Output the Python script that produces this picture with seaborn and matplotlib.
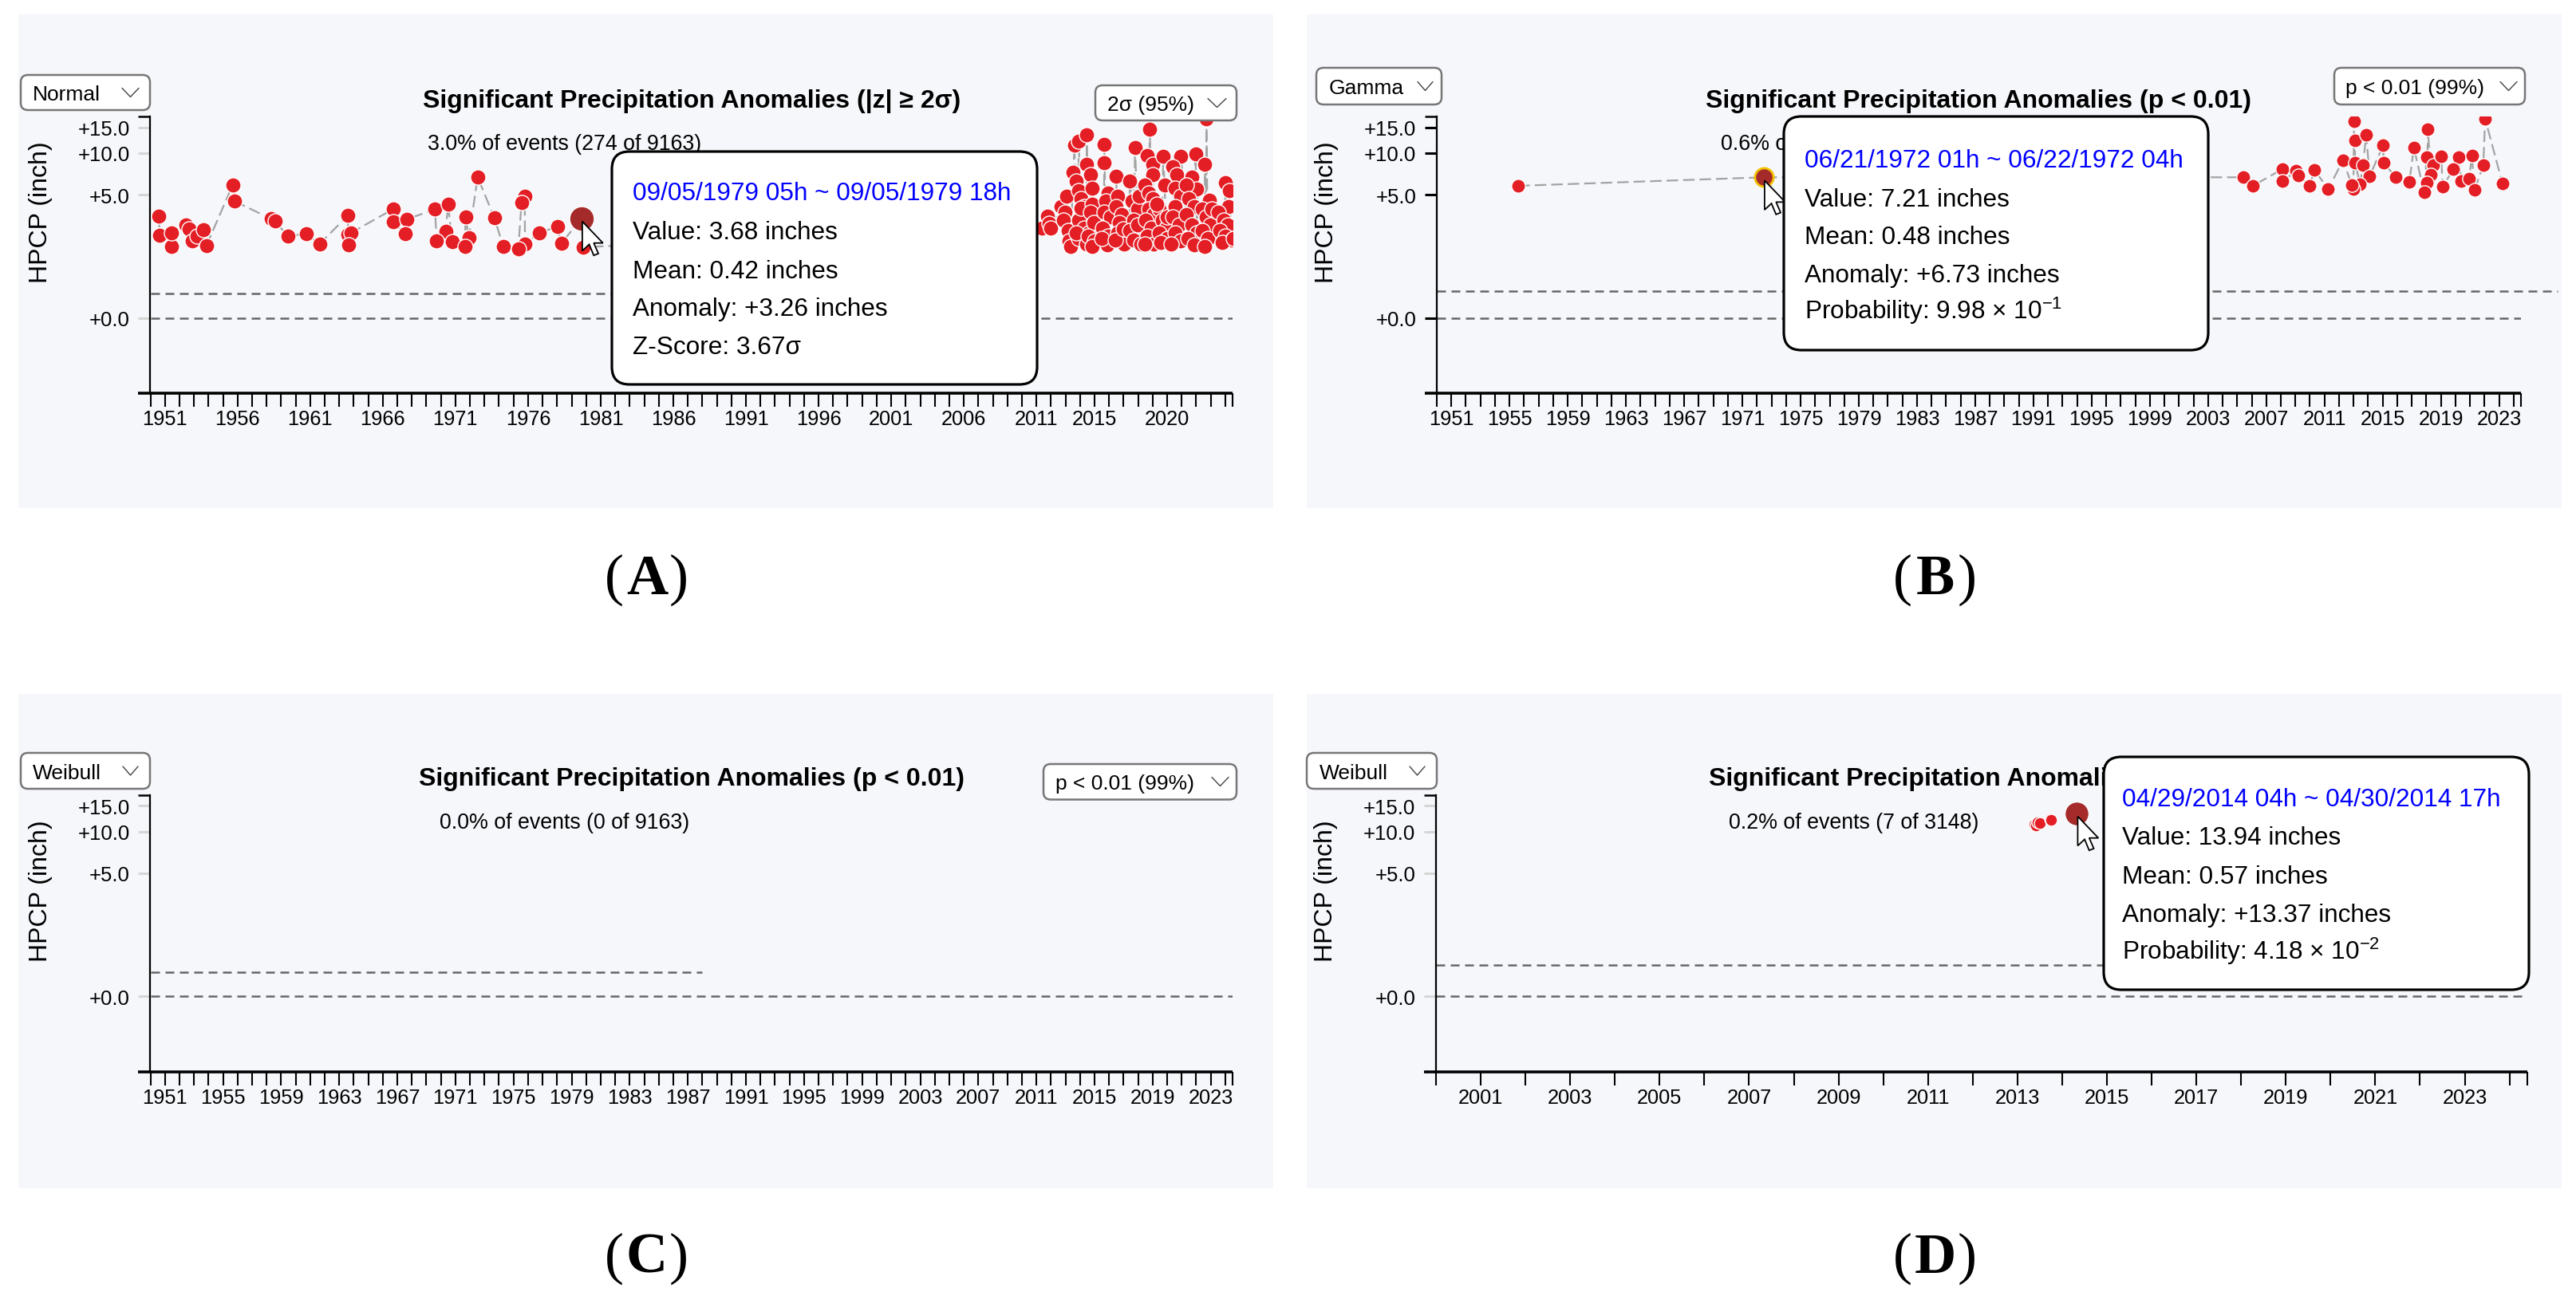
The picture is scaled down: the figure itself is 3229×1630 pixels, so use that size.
import numpy as np
import pandas as pd
import matplotlib
matplotlib.use("Agg")
import matplotlib.pyplot as plt
import matplotlib.transforms as mtransforms
from matplotlib.patches import FancyBboxPatch, Polygon, Rectangle
from matplotlib.lines import Line2D
import seaborn as sns

sns.set_style("white")
plt.rcParams["font.family"] = ["Liberation Sans", "DejaVu Sans"]
plt.rcParams["mathtext.fontset"] = "custom"
plt.rcParams["mathtext.rm"] = "Liberation Sans"
plt.rcParams["mathtext.it"] = "Liberation Sans:italic"
plt.rcParams["mathtext.bf"] = "Liberation Sans:bold"
plt.rcParams["axes.unicode_minus"] = False

# ---------------- data ----------------
Y_MIN, Y_MAX = -2.0, 17.8
Y_TICKS = [0, 5, 10, 15]
Y_TICK_LABELS = ["+0.0", "+5.0", "+10.0", "+15.0"]

# Panel A : Normal, |z| >= 2 sigma (anomalies, inches)
A_YEARS = [1950.60, 1950.62, 1951.43, 1951.48, 1952.42, 1952.64, 1952.86, 1953.24, 1953.63, 1953.85,
           1955.66, 1955.77, 1958.30, 1958.57, 1959.45, 1960.71, 1961.65, 1963.60, 1963.62, 1963.80,
           1963.64, 1966.70, 1966.72, 1967.63, 1967.55, 1969.60, 1970.50, 1970.33, 1969.70, 1970.77,
           1971.70, 1971.92, 1971.65, 1972.53, 1973.68, 1974.29, 1975.77, 1975.55, 1975.79, 1975.33,
           1976.76, 1978.02, 1978.30, 1979.78,
           2011.40, 2011.77, 2011.85, 2011.96,
           2012.70, 2012.98, 2012.88, 2013.16, 2013.25, 2013.53, 2013.62, 2013.90, 2013.35, 2013.07,
           2014.46, 2014.46, 2014.73, 2013.72, 2013.90, 2014.09, 2014.27, 2014.46, 2013.90, 2014.27,
           2014.64, 2013.90, 2014.46, 2013.72, 2014.09,
           2014.83, 2014.73, 2014.92, 2014.55, 2015.01, 2014.83, 2014.83,
           2015.66, 2015.66, 2015.94, 2015.75, 2015.66, 2016.12, 2015.57, 2015.94, 2015.85, 2015.47,
           2016.49, 2016.59, 2016.49, 2016.86, 2016.68, 2016.59, 2017.05, 2016.40, 2016.96,
           2017.79, 2017.42, 2017.60, 2017.97, 2017.70, 2017.42, 2017.97, 2017.70, 2018.16, 2018.07,
           2018.81, 2018.62, 2018.99, 2018.99, 2018.44, 2018.71, 2018.99, 2018.71, 2019.08, 2018.53,
           2018.90, 2018.62, 2019.08, 2018.44,
           2019.73, 2019.82, 2019.45, 2019.64, 2019.92, 2019.45, 2020.01, 2019.55, 2020.01, 2019.27,
           2020.94, 2020.38, 2020.66, 2020.57, 2020.94, 2020.57, 2020.38, 2020.84, 2020.57, 2020.94,
           2020.29,
           2021.95, 2021.68, 2022.05, 2021.31, 2021.49, 2021.86, 2021.31, 2021.68, 2022.05, 2021.40,
           2021.86,
           2022.70, 2022.60, 2022.88, 2022.42, 2022.69, 2022.97, 2022.42, 2022.79, 2022.60, 2023.06,
           2023.99, 2024.27, 2024.23, 2023.53, 2023.90, 2024.17, 2023.62, 2023.99, 2024.45, 2023.80,
           2024.55]
A_ANOM = [3.41, 2.32, 1.82, 2.44, 2.86, 2.64, 2.06, 2.29, 2.61, 1.85,
          5.90, 4.47, 3.23, 3.10, 2.29, 2.39, 1.93, 3.44, 2.36, 2.44,
          1.89, 3.86, 3.05, 3.19, 2.39, 3.86, 4.23, 2.53, 2.06, 2.02,
          3.35, 2.20, 1.83, 6.75, 3.29, 1.83, 4.87, 4.37, 1.92, 1.72,
          2.44, 2.78, 1.96, 1.80,
          2.70, 3.41, 2.95, 2.70,
          4.05, 3.67, 3.16, 2.56, 2.05, 7.35, 11.31, 12.04, 1.82, 4.89,
          13.36, 8.31, 7.03, 6.29, 5.37, 4.67, 4.05, 3.49, 3.16, 2.70,
          2.43, 2.17, 1.93, 2.43, 3.95,
          4.24, 3.67, 3.00, 2.30, 2.05, 1.82, 5.62,
          11.54, 8.56, 5.13, 4.45, 3.67, 3.32, 2.70, 2.30, 1.88, 2.17,
          6.88, 4.89, 4.05, 3.49, 3.00, 2.43, 1.93, 2.11, 2.63,
          10.93, 6.29, 4.45, 3.86, 3.16, 2.56, 2.85, 2.11, 1.93, 4.89,
          14.63, 9.61, 8.31, 7.03, 5.88, 5.13, 4.67, 3.86, 3.49, 3.16,
          2.70, 2.30, 1.93, 1.93,
          9.45, 5.88, 3.86, 3.16, 2.70, 2.43, 2.17, 1.99, 3.32, 4.24,
          9.45, 8.03, 7.03, 5.62, 4.89, 4.05, 3.32, 2.85, 2.43, 2.05,
          1.93,
          9.87, 6.73, 5.49, 5.88, 4.67, 4.05, 3.49, 2.85, 2.43, 2.17,
          1.88,
          17.00, 8.31, 4.56, 3.86, 3.32, 2.85, 2.56, 2.17, 1.82, 3.86,
          6.15, 5.37, 4.05, 3.67, 3.16, 2.85, 2.56, 2.30, 2.11, 1.99,
          2.17]
A_HOVER = (1979.68, 3.26)
A_MEAN = 0.42
A_MEAN_END = 1988.0
A_XLIM = (1950, 2024.5)
A_XLABELS = [1951, 1956, 1961, 1966, 1971, 1976, 1981, 1986, 1991, 1996, 2001, 2006, 2011, 2015, 2020]

# Panel B : Gamma, p < 0.01
B_YEARS = [1955.60, 2005.41, 2006.08, 2008.10, 2008.12, 2009.06, 2009.20, 2010.31, 2009.98, 2011.26,
           2012.27, 2013.03, 2013.09, 2013.87, 2013.10, 2013.64, 2014.10, 2013.45, 2012.99, 2012.88,
           2015.04, 2015.05, 2015.88, 2016.83, 2017.14, 2018.11, 2018.02, 2018.47, 2019.02, 2018.29,
           2018.03, 2017.84, 2019.12, 2020.21, 2019.85, 2020.40, 2021.13, 2020.94, 2021.31, 2021.91,
           2022.04, 2023.23]
B_ANOM = [5.83, 6.73, 5.83, 7.70, 6.30, 7.50, 6.96, 7.60, 5.83, 5.49,
          8.93, 16.40, 12.30, 13.40, 8.56, 8.20, 6.88, 6.00, 5.49, 5.90,
          11.30, 8.56, 6.79, 6.20, 10.90, 14.60, 9.34, 8.20, 9.50, 7.03,
          6.13, 5.25, 5.74, 9.34, 7.70, 6.30, 9.60, 6.60, 5.42, 8.20,
          17.10, 6.07]
B_HOVER = (1972.47, 6.73)
B_MEAN = 0.47
B_MEAN_END = 2027.0
B_XLIM = (1950, 2024.5)
B_XLABELS = [1951, 1955, 1959, 1963, 1967, 1971, 1975, 1979, 1983, 1987, 1991, 1995, 1999, 2003,
             2007, 2011, 2015, 2019, 2023]

# Panel C : Weibull, p < 0.01 (no events)
C_MEAN = 0.42
C_MEAN_END = 1988.0
C_XLIM = (1950, 2024.5)
C_XLABELS = B_XLABELS

# Panel D : Weibull, p < 0.01, 2000-2024
D_YEARS = [2013.38, 2013.41, 2013.45, 2013.50, 2013.73, 2013.76]
D_ANOM = [11.2, 11.0, 11.6, 11.4, 12.2, 12.0]
D_HOVER = (2014.33, 13.37)
D_MEAN = 0.58
D_MEAN_END = 2016.0
D_XLIM = (2000, 2024.4)
D_XLABELS = [2001, 2003, 2005, 2007, 2009, 2011, 2013, 2015, 2017, 2019, 2021, 2023]

TITLE_A = "Significant Precipitation Anomalies (|z| \u2265 2\u03c3)"
TITLE_P = "Significant Precipitation Anomalies (p < 0.01)"
SUB_A = "3.0% of events (274 of 9163)"
SUB_B = "0.6% of events (55 of 9163)"
SUB_C = "0.0% of events (0 of 9163)"
SUB_D = "0.2% of events (7 of 3148)"
TIP_A = ["09/05/1979 05h ~ 09/05/1979 18h", "Value: 3.68 inches", "Mean: 0.42 inches",
         "Anomaly: +3.26 inches", "Z-Score: 3.67\u03c3"]
TIP_B = ["06/21/1972 01h ~ 06/22/1972 04h", "Value: 7.21 inches", "Mean: 0.48 inches",
         "Anomaly: +6.73 inches", "Probability: 9.98 \u00d7 10$^{-1}$"]
TIP_D = ["04/29/2014 04h ~ 04/30/2014 17h", "Value: 13.94 inches", "Mean: 0.57 inches",
         "Anomaly: +13.37 inches", "Probability: 4.18 \u00d7 10$^{-2}$"]

# ---------------- styling ----------------
W, H = 3230, 1631
BG = "#f6f7fb"
RED = "#e41e25"
HOVER = "#a52a2a"
fig = plt.figure(figsize=(W / 100, H / 100), dpi=100)
fig.patch.set_facecolor("white")
PX = mtransforms.Affine2D().scale(1 / W, -1 / H).translate(0, 1) + fig.transFigure


def fwd(v):
    v = np.asarray(v, dtype=float)
    return np.sign(v) * np.log1p(np.abs(v))


def inv(t):
    t = np.asarray(t, dtype=float)
    return np.sign(t) * np.expm1(np.abs(t))


def ftext(x, y, s, size, cap=0.358, **kw):
    base = y + cap * size / 0.72
    kw.setdefault("ha", "left")
    return fig.text(x / W, 1 - base / H, s, fontsize=size, va="baseline", **kw)


def rect_bg(box):
    l, t, r, b = box
    fig.add_artist(Rectangle((l, t), r - l, b - t, transform=PX, facecolor=BG,
                             edgecolor="none", zorder=-5))


def dropdown(box, text, tx, ty, c0, c1):
    l, t, r, b = box
    fig.add_artist(FancyBboxPatch((l, t), r - l, b - t, boxstyle="round,pad=0,rounding_size=9",
                                  transform=PX, facecolor="white", edgecolor="#777777",
                                  lw=1.8, zorder=15))
    ftext(tx, ty, text, 19, zorder=16, color="black")
    fig.add_artist(Line2D([c0, (c0 + c1) / 2, c1], [ty - 5.5, ty + 5.5, ty - 5.5], transform=PX,
                          lw=1.0, color="#444444", zorder=16))


def tooltip(box, tx, ys, lines):
    l, t, r, b = box
    fig.add_artist(FancyBboxPatch((l, t), r - l, b - t, boxstyle="round,pad=0,rounding_size=22",
                                  transform=PX, facecolor="white", edgecolor="black",
                                  lw=2.3, zorder=20))
    for i, (y, s) in enumerate(zip(ys, lines)):
        ftext(tx, y, s, 22.7, color="#0000ff" if i == 0 else "black", zorder=21)


def cursor(ax, x, y):
    dx, dy = ax.transData.transform((x, y))
    tx, ty = dx + 1, (H - dy) + 4
    shape = [(0, 0), (0, 32), (7.5, 25), (12.5, 37), (17.5, 35), (12.5, 23.5), (22.5, 23.5)]
    pts = [(tx + 1.15 * sx, ty + 1.15 * sy) for sx, sy in shape]
    fig.add_artist(Polygon(pts, closed=True, transform=PX, facecolor="white", edgecolor="black",
                           lw=1.3, joinstyle="miter", zorder=18))


def panel_label(cx, cy, letter):
    serif = ["Liberation Serif", "DejaVu Serif"]
    ftext(cx + 2, cy, letter, 52, cap=0.331, ha="center", family=serif, weight="bold",
          color="black")
    ftext(cx - 27, cy, "(", 52, cap=0.331, ha="right", family=serif, color="black")
    ftext(cx + 30, cy, ")", 52, cap=0.331, ha="left", family=serif, color="black")


def make_axes(box, xlim, xlabels, ytick_color):
    l, t, r, b = box
    ax = fig.add_axes([l / W, 1 - b / H, (r - l) / W, (b - t) / H])
    ax.patch.set_alpha(0)
    ax.set_yscale("function", functions=(fwd, inv))
    ax.set_ylim(Y_MIN, Y_MAX)
    ax.set_xlim(*xlim)
    ticks = list(range(int(xlim[0]), int(xlim[1]) + 1)) + [xlim[1]]
    ax.set_xticks(ticks)
    ax.set_xticklabels([str(tk) if tk in xlabels else "" for tk in ticks])
    ax.set_yticks(Y_TICKS)
    ax.set_yticklabels(Y_TICK_LABELS)
    ax.minorticks_off()
    ax.tick_params(axis="x", bottom=True, direction="out", length=12.2, width=1.5,
                   color="black", pad=2, labelsize=18.3, labelcolor="black")
    ax.tick_params(axis="y", left=True, direction="out", length=10.5, width=2.2,
                   color=ytick_color, pad=8, labelsize=18.5, labelcolor="black")
    for side in ["top", "right", "bottom"]:
        ax.spines[side].set_visible(False)
    ax.spines["left"].set_color("black")
    ax.spines["left"].set_linewidth(1.6)
    ax.set_xlabel("")
    ax.set_ylabel("")
    axw = r - l
    ax.add_line(Line2D([-15 / axw, 1], [0, 0], transform=ax.transAxes, lw=2.6, color="black",
                       clip_on=False, solid_capstyle="butt", zorder=5))
    ax.add_line(Line2D([-15 / axw, 0], [1, 1], transform=ax.transAxes, lw=1.8, color="black",
                       clip_on=False, solid_capstyle="butt", zorder=5))
    ax.grid(False)
    return ax


def ref_lines(ax, xlim, mean, mean_end):
    ax.plot([xlim[0], xlim[1]], [0, 0], color="#666666", lw=1.8, ls=(0, (4.4, 2.8)), zorder=1)
    ax.plot([xlim[0], mean_end], [mean, mean], color="#666666", lw=1.8, ls=(0, (4.4, 2.8)),
            zorder=1, clip_on=False)


def points(ax, years, anoms, hover, size, hsize, hedge, hlw, with_line=True):
    df = pd.DataFrame({"year": list(years) + [hover[0]], "anom": list(anoms) + [hover[1]]})
    if with_line:
        sns.lineplot(data=df, x="year", y="anom", ax=ax, estimator=None, sort=True,
                     color="#a3a3a3", lw=1.6, linestyle=(0, (6.5, 2.8)), zorder=2, legend=False)
    pts = pd.DataFrame({"year": years, "anom": anoms})
    sns.scatterplot(data=pts, x="year", y="anom", ax=ax, s=size, color=RED, edgecolor="white",
                    linewidth=1.0, zorder=3, legend=False)
    hv = pd.DataFrame({"year": [hover[0]], "anom": [hover[1]]})
    sns.scatterplot(data=hv, x="year", y="anom", ax=ax, s=hsize, color=HOVER, edgecolor=hedge,
                    linewidth=hlw, zorder=4, legend=False)
    ax.set_xlabel("")
    ax.set_ylabel("")


PANELS = {
    "A": dict(bg=(23, 19, 1596, 638), ax=(188.5, 146.7, 1545, 494.3), label=(809, 721)),
    "B": dict(bg=(1638, 19, 3211, 638), ax=(1801, 146.7, 3160, 494.3), label=(2424, 721)),
    "C": dict(bg=(23, 871, 1596, 1491), ax=(188.5, 997.5, 1545, 1345), label=(809, 1572)),
    "D": dict(bg=(1638, 871, 3211, 1491), ax=(1800, 997.5, 3168, 1345), label=(2424, 1572)),
}

for key in PANELS:
    rect_bg(PANELS[key]["bg"])

axA = make_axes(PANELS["A"]["ax"], A_XLIM, A_XLABELS, "#d6d6d6")
axB = make_axes(PANELS["B"]["ax"], B_XLIM, B_XLABELS, "black")
axC = make_axes(PANELS["C"]["ax"], C_XLIM, C_XLABELS, "#d6d6d6")
axD = make_axes(PANELS["D"]["ax"], D_XLIM, D_XLABELS, "#d6d6d6")

ref_lines(axA, A_XLIM, A_MEAN, A_MEAN_END)
ref_lines(axB, B_XLIM, B_MEAN, B_MEAN_END)
ref_lines(axC, C_XLIM, C_MEAN, C_MEAN_END)
ref_lines(axD, D_XLIM, D_MEAN, D_MEAN_END)

points(axA, A_YEARS, A_ANOM, A_HOVER, 190, 484, "white", 0.8)
points(axB, B_YEARS, B_ANOM, B_HOVER, 155, 279, "#f2c200", 2.0)
points(axD, D_YEARS, D_ANOM, D_HOVER, 115, 454, "white", 0.8, with_line=False)

for ax, xlim in [(axA, A_XLIM), (axB, B_XLIM), (axC, C_XLIM), (axD, D_XLIM)]:
    ax.set_xlim(*xlim)
    ax.set_ylim(Y_MIN, Y_MAX)

# titles / subtitles / y labels / panel letters
for key, ax_title, sub in [("A", TITLE_A, SUB_A), ("B", TITLE_P, SUB_B),
                           ("C", TITLE_P, SUB_C), ("D", TITLE_P, SUB_D)]:
    l, t, r, b = PANELS[key]["ax"]
    ftext((l + r) / 2, t - 23.5, ax_title, 23, ha="center", weight="bold", color="black", zorder=3)
    ftext(l + 0.383 * (r - l), t + 31.8, sub, 19.3, ha="center", color="black", zorder=3)
    fig.text((l - 137.5) / W, 1 - (t + 119.5) / H, "HPCP (inch)", rotation=90, ha="center",
             va="center", fontsize=23, color="black")
    panel_label(*PANELS[key]["label"], key)

# dropdown selectors
dropdown((26, 95, 188, 139), "Normal", 41, 117, 153, 174)
dropdown((1373, 108, 1550, 152), "2\u03c3 (95%)", 1388, 130, 1514, 1537)
dropdown((1650, 86, 1807, 132), "Gamma", 1666, 109, 1777, 1796)
dropdown((2926, 86, 3165, 132), "p < 0.01 (99%)", 2940, 109, 3134, 3155)
dropdown((26, 945, 188, 990), "Weibull", 41, 967.5, 154, 173)
dropdown((1308, 959, 1550, 1003.5), "p < 0.01 (99%)", 1323, 981, 1519, 1540)
dropdown((1638, 945, 1801, 990), "Weibull", 1654, 967.5, 1767, 1786)

# hover tooltips and cursors
tooltip((767, 191, 1300, 483), 793, [240, 289, 338, 385, 433], TIP_A)
tooltip((2236, 147, 2768, 440), 2262, [199, 248, 295, 343, 389], TIP_B)
tooltip((2637, 950, 3170, 1242), 2660, [1000, 1048, 1097, 1145, 1192], TIP_D)
cursor(axA, *A_HOVER)
cursor(axB, *B_HOVER)
cursor(axD, *D_HOVER)

fig.savefig("out.png", dpi=100, facecolor="white")
